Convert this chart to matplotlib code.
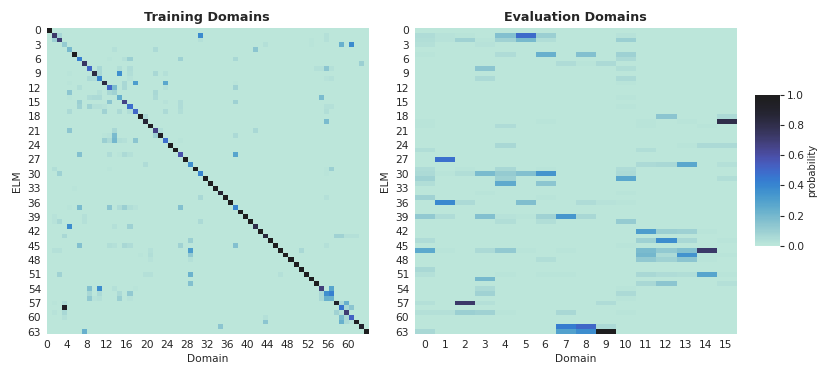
import numpy as np
import matplotlib
matplotlib.use("Agg")
import matplotlib.pyplot as plt
from matplotlib.colors import ListedColormap
import seaborn as sns

train_diag = [.98,.72,.7,.11,.19,.98,.42,.74,.5,.82,.4,.82,.5,.08,.24,.66,.48,.5,.98,.86,
              .95,.66,.95,.48,.98,.98,.58,.98,.36,.98,.4,.98,.98,.98,.88,.98,.98,.4,.98,.98,
              .98,.8,.98,.85,.98,.98,.98,.98,.98,.98,.98,.98,.98,.98,.68,.36,.22,.9,.46,.7,
              .52,.95,.9,.98]

# (ELM row, domain column, probability)
train_cells = [
    (1,2,.07),(2,1,.1),(4,13,.03),(4,21,.05),(6,15,.03),(6,16,.1),(6,26,.09),(6,12,.015),
    (8,10,.06),(9,10,.06),(10,8,.05),(10,9,.04),(8,14,.035),(8,16,.04),(9,14,.36),(9,21,.06),
    (9,16,.035),(10,16,.02),(9,23,.03),(9,4,.01),(11,15,.06),(12,15,.06),(11,17,.31),(11,23,.27),
    (12,23,.03),(11,4,.015),(12,6,.035),(12,13,.18),(13,12,.06),(13,10,.03),(13,4,.14),(14,4,.015),
    (13,21,.06),(14,21,.05),(14,8,.04),(14,9,.05),(14,10,.05),(15,6,.1),(16,6,.08),(15,12,.14),
    (15,23,.02),(15,26,.04),(16,26,.04),(16,8,.08),(16,9,.03),(16,10,.03),(16,11,.02),(17,4,.05),
    (17,11,.08),(17,14,.05),(17,16,.035),(17,23,.05),(17,26,.035),(18,19,.05),(21,4,.14),(21,13,.06),
    (21,22,.035),(22,21,.09),(22,13,.18),(23,13,.2),(23,11,.1),(23,12,.05),(23,14,.035),(23,15,.03),
    (23,17,.14),(22,11,.015),(22,12,.02),(23,26,.015),(26,6,.16),(26,12,.04),(26,14,.015),(26,15,.05),
    (26,16,.03),(28,19,.04),(29,1,.035),(30,2,.09),(29,12,.01),(33,5,.015),
    (1,30,.38),(2,30,.03),(4,41,.14),(3,43,.03),(6,37,.06),(1,55,.03),(2,55,.03),(3,52,.015),(2,52,.015),
    (3,58,.23),(3,60,.38),(7,62,.1),(8,53,.03),(8,54,.03),(8,55,.14),(8,56,.03),(10,55,.02),(10,56,.03),
    (12,37,.08),(11,37,.015),(15,37,.09),(14,54,.18),(16,55,.03),(16,56,.03),(17,55,.035),(19,55,.18),
    (21,41,.06),(22,37,.05),(26,37,.28),(29,56,.1),(30,55,.015),(29,55,.015),(35,30,.06),(35,55,.03),
    (40,30,.05),(37,6,.18),(37,12,.14),(37,14,.04),(37,15,.1),(37,16,.035),(37,17,.02),(37,26,.16),
    (37,4,.015),(40,2,.06),(39,7,.03),(40,7,.03),(39,1,.02),(40,1,.02),(41,4,.37),(41,13,.03),(41,16,.09),
    (43,3,.06),(45,6,.16),(45,12,.035),(45,13,.03),(45,15,.06),(45,16,.04),(45,26,.08),(44,28,.1),
    (46,28,.31),(47,28,.12),(48,28,.03),(46,2,.03),(46,1,.03),(46,20,.03),(47,20,.035),(48,20,.02),
    (47,18,.015),(51,2,.08),(51,19,.03),(51,20,.03),(51,28,.22),(53,28,.16),(54,8,.16),(54,10,.37),
    (55,8,.06),(56,8,.12),(55,10,.05),(56,10,.03),(56,9,.02),(54,13,.03),(55,14,.05),(56,14,.1),
    (55,16,.12),(56,16,.02),(54,17,.015),(58,3,.93),(57,3,.04),(59,3,.06),(60,3,.03),(59,1,.02),(57,1,.015),
    (62,34,.14),(61,43,.14),(60,43,.03),(51,46,.03),(45,37,.16),(45,55,.03),(46,50,.06),
    (43,57,.08),(43,58,.08),(43,59,.03),(43,60,.03),(43,61,.03),
    (54,56,.28),(55,54,.06),(55,56,.42),(56,54,.06),(56,55,.23),
    (57,59,.23),(58,60,.14),(59,57,.08),(58,59,.06),(59,58,.03),(60,58,.18),(61,58,.23),(60,59,.06),
    (61,59,.05),(61,60,.03),(57,58,.05),(63,7,.23),
]

eval_cells = [
    (1,0,.04),(2,0,.035),(3,0,.03),(5,0,.015),(19,0,.01),(20,0,.01),(25,0,.035),(29,0,.04),(30,0,.05),
    (31,0,.08),(32,0,.035),(35,0,.08),(39,0,.12),(44,0,.04),(46,0,.26),(50,0,.06),(51,0,.03),(57,0,.03),
    (59,0,.03),(63,0,.06),
    (1,1,.02),(2,1,.02),(27,1,.47),(30,1,.015),(36,1,.39),(39,1,.04),(46,1,.015),(59,1,.03),(62,1,.005),
    (1,2,.015),(2,2,.08),(29,2,.015),(30,2,.035),(36,2,.05),(57,2,.72),(59,2,.1),
    (2,3,.01),(3,3,.02),(8,3,.14),(10,3,.05),(30,3,.18),(34,3,.015),(39,3,.16),(46,3,.05),(52,3,.19),
    (54,3,.05),(55,3,.08),(57,3,.03),(59,3,.08),
    (1,4,.16),(2,4,.08),(5,4,.04),(20,4,.04),(24,4,.06),(29,4,.06),(30,4,.11),(31,4,.09),(32,4,.25),
    (39,4,.02),(40,4,.035),(46,4,.12),(51,4,.01),(59,4,.015),
    (1,5,.49),(2,5,.19),(18,5,.005),(30,5,.16),(36,5,.17),(46,5,.015),(39,5,.01),
    (1,6,.1),(2,6,.035),(5,6,.23),(32,6,.14),(30,6,.34),(29,6,.01),(19,6,.01),(35,6,.015),(39,6,.08),
    (40,6,.035),(48,6,.035),(51,6,.01),
    (7,7,.04),(39,7,.33),(59,7,.06),(62,7,.43),(63,7,.29),(46,7,.01),(51,7,.01),
    (5,8,.16),(7,8,.01),(36,8,.04),(39,8,.06),(62,8,.5),(63,8,.37),
    (7,9,.05),(36,9,.02),(57,9,.04),(62,9,.05),(63,9,.98),
    (1,10,.02),(2,10,.1),(5,10,.09),(6,10,.05),(8,10,.035),(10,10,.05),(11,10,.01),(14,10,.01),
    (16,10,.01),(29,10,.04),(30,10,.05),(31,10,.27),(34,10,.015),(36,10,.01),(40,10,.11),(45,10,.01),
    (54,10,.015),(55,10,.05),(56,10,.015),(59,10,.015),
    (19,11,.015),(20,11,.015),(25,11,.035),(28,11,.05),(42,11,.31),(44,11,.09),(46,11,.18),(47,11,.2),
    (48,11,.12),(51,11,.06),(53,11,.06),
    (18,12,.14),(28,12,.06),(42,12,.1),(44,12,.37),(46,12,.12),(47,12,.05),(48,12,.08),(51,12,.04),(53,12,.14),
    (19,13,.01),(24,13,.015),(28,13,.27),(42,13,.09),(44,13,.06),(46,13,.16),(47,13,.35),(48,13,.14),(51,13,.035),
    (20,14,.015),(24,14,.05),(42,14,.01),(46,14,.72),(47,14,.015),(48,14,.01),(51,14,.28),
    (18,15,.05),(19,15,.8),(24,15,.05),(28,15,.03),(31,15,.035),(44,15,.01),(47,15,.015),(51,15,.015),(53,15,.03),
]

n_elm = 64
n_train = 64
n_eval = 16

def build(cells, cols):
    m = np.zeros((n_elm, cols))
    for r, c, v in cells:
        m[r, c] = v
    return m

train = build(train_cells, n_train)
train[np.arange(n_elm), np.arange(n_elm)] = train_diag
evalm = build(eval_cells, n_eval)

cmap = ListedColormap(sns.color_palette("icefire", 512)[:256])

plt.rcParams["font.family"] = "DejaVu Sans"
W, H = 830, 378
fig = plt.figure(figsize=(W / 100, H / 100), dpi=100)

def axes_px(x0, y0, x1, y1):
    return fig.add_axes([x0 / W, 1 - y1 / H, (x1 - x0) / W, (y1 - y0) / H])

ax1 = axes_px(46.7, 28, 367.7, 334)
ax2 = axes_px(414.7, 28, 735.7, 334)
cax = axes_px(755.3, 94.7, 780, 245.7)

im = ax1.imshow(train, cmap=cmap, vmin=0, vmax=1, aspect="auto",
                extent=(0, n_train, n_elm, 0), interpolation="nearest")
ax2.imshow(evalm, cmap=cmap, vmin=0, vmax=1, aspect="auto",
           extent=(0, n_eval, n_elm, 0), interpolation="nearest")

ytick_labels = list(range(0, n_elm, 3))
yticks = [t + 0.5 for t in ytick_labels]
for ax, title in ((ax1, "Training Domains"), (ax2, "Evaluation Domains")):
    ax.set_yticks(yticks, [str(t) for t in ytick_labels])
    ax.set_title(title, fontsize=9.2, fontweight="bold", color="#262626", pad=5)
    ax.set_xlabel("Domain", fontsize=7.7, color="#262626", labelpad=3)
    ax.set_ylabel("ELM", fontsize=7.7, color="#262626", labelpad=4)
    ax.tick_params(length=0, labelsize=7.7, labelcolor="#262626", pad=4)
    for s in ax.spines.values():
        s.set_visible(False)

train_xlabels = list(range(0, 61, 4))
ax1.set_xticks(train_xlabels, [str(t) for t in train_xlabels])
eval_xlabels = list(range(n_eval))
ax2.set_xticks([t + 0.5 for t in eval_xlabels], [str(t) for t in eval_xlabels])

cb = fig.colorbar(im, cax=cax)
cb.set_ticks([0, .2, .4, .6, .8, 1.0])
cb.ax.tick_params(length=3, width=0.8, labelsize=7.7, labelcolor="#262626", color="#262626", pad=2)
cb.set_label("probability", fontsize=7.2, color="#262626", labelpad=2)
cb.outline.set_visible(False)

fig.savefig("out.png", dpi=100)
